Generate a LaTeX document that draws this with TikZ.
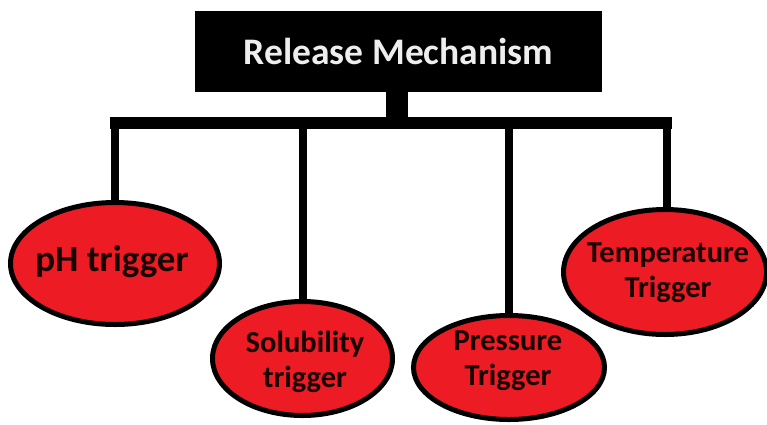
\documentclass[tikz,border=0pt]{standalone}
\usepackage{fontspec}
\setmainfont{Carlito}
\usetikzlibrary{shapes.geometric}
\definecolor{trigred}{HTML}{ED1C24}
\definecolor{titletext}{HTML}{EEEEEE}
\definecolor{trigtext}{HTML}{1A0505}
\begin{document}
\begin{tikzpicture}[x=1pt,y=-1pt,
  titlebox/.style={rectangle,fill=black,draw=none,minimum width=407pt,minimum height=81pt,inner sep=0pt,
    text=titletext,font=\fontsize{37.5}{40}\selectfont\bfseries},
  trig/.style={ellipse,fill=trigred,draw=black,line width=5pt,inner sep=0pt},
  trigtxt/.style={inner sep=0pt,align=center,text=trigtext,font=\fontsize{30.5}{35}\selectfont\bfseries},
  conn/.style={line width=8pt,draw=black},
  barline/.style={line width=12pt,draw=black},
  stemline/.style={line width=22pt,draw=black}]
\useasboundingbox (0,0) rectangle (767,424);
\node[titlebox] (title) at (398.5,51.5) {Release Mechanism};
\coordinate (barL) at (110,123);
\coordinate (barR) at (672,123);
\coordinate (barC) at (397,117);
\node[trig,minimum width=209pt,minimum height=122pt] (ph) at (115,263.5) {};
\node[trig,minimum width=180pt,minimum height=114pt] (sol) at (302.5,358.5) {};
\node[trig,minimum width=191pt,minimum height=104pt] (pre) at (509,367.5) {};
\node[trig,minimum width=203pt,minimum height=125pt] (tem) at (665,272) {};
\node[trigtxt,font=\fontsize{37}{40}\selectfont\bfseries] (phT) at (112,262) {pH trigger};
\node[trigtxt] (solT) at (305,362) {Solubility\\trigger};
\node[trigtxt] (preT) at (508,361) {Pressure\\Trigger};
\node[trigtxt] (temT) at (668,273) {Temperature\\Trigger};
\draw[stemline] (title.south -| barC) -- (barC);
\draw[barline] (barL) -- (barR);
\draw[conn] (barL -| ph.north) -- (ph.north);
\draw[conn] (barL -| sol.north) -- (sol.north);
\draw[conn] (barL -| pre.north) -- (pre.north);
\draw[conn] (667,123) -- (667,210);
\end{tikzpicture}
\end{document}
